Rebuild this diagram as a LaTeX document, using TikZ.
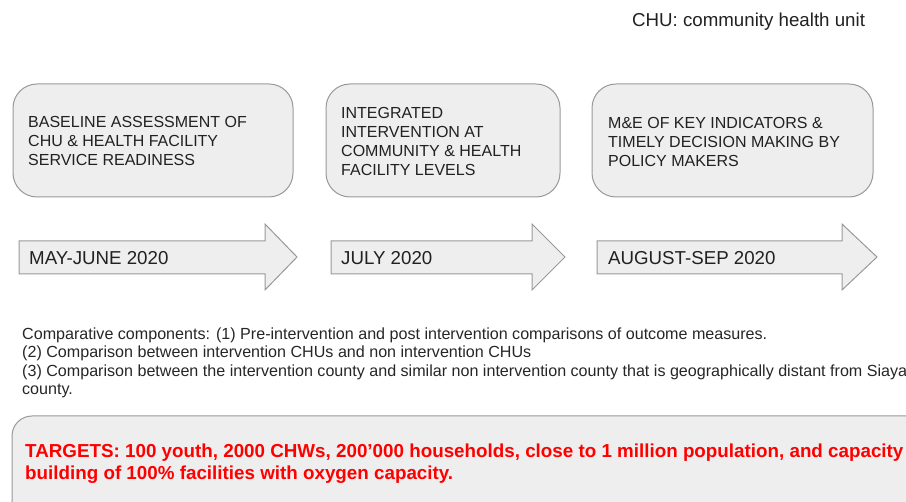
\documentclass[tikz,border=0pt]{standalone}
\usepackage{fontspec}
\setmainfont{Liberation Sans}
\begin{document}
\begin{tikzpicture}[x=1pt,y=-1pt,
  panel/.style={draw=black!40,fill=black!6.5,line width=1pt,rounded corners=24pt},
  timearrow/.style={draw=black!40,fill=black!6.5,line width=1pt},
  boxtext/.style={anchor=west,align=left,inner sep=0pt,text=black!87,
    font=\fontsize{16}{19}\selectfont},
  datetext/.style={anchor=west,inner sep=0pt,text=black!87,
    font=\fontsize{18.7}{21}\selectfont},
  notetext/.style={anchor=west,align=left,inner sep=0pt,text=black!85,
    font=\fontsize{16.1}{18.4}\selectfont},
  targettext/.style={anchor=west,align=left,inner sep=0pt,text=red,
    font=\fontsize{18.8}{22.5}\selectfont\bfseries}]
\useasboundingbox (0,0) rectangle (906,502);
\clip (0,0) rectangle (906,502);

% legend
\node[anchor=west,inner sep=0pt,text=black!87,font=\fontsize{18.7}{21}\selectfont]
  (legend) at (632,22) {CHU: community health unit};

% phase panels
\draw[panel] (13,84) rectangle (293,197);
\draw[panel] (326,84) rectangle (560,197);
\draw[panel] (592,84) rectangle (873,197);
\node[boxtext] (phase1) at (28,141)
  {BASELINE ASSESSMENT OF\\CHU \& HEALTH FACILITY\\SERVICE READINESS};
\node[boxtext] (phase2) at (341,141)
  {INTEGRATED\\INTERVENTION AT\\COMMUNITY \& HEALTH\\FACILITY LEVELS};
\node[boxtext] (phase3) at (608,142)
  {M\&E OF KEY INDICATORS \&\\TIMELY DECISION MAKING BY\\POLICY MAKERS};

% timeline arrows
\draw[timearrow] (19,241) -- (265,241) -- (265,224) -- (297,257)
  -- (265,290) -- (265,274) -- (19,274) -- cycle;
\draw[timearrow] (331,241) -- (532,241) -- (532,224) -- (565,257)
  -- (532,290) -- (532,274) -- (331,274) -- cycle;
\draw[timearrow] (597,241) -- (842,241) -- (842,224) -- (877,257)
  -- (842,290) -- (842,274) -- (597,274) -- cycle;
\node[datetext] (date1) at (29,258) {MAY-JUNE 2020};
\node[datetext] (date2) at (341,258) {JULY 2020};
\node[datetext] (date3) at (608,258) {AUGUST-SEP 2020};

% comparative components
\node[notetext] (notes) at (22,363)
  {Comparative components: (1) Pre-intervention and post intervention comparisons of outcome measures.\\
   (2) Comparison between intervention CHUs and non intervention CHUs\\
   (3) Comparison between the intervention county and similar non intervention county that is geographically distant from Siaya\\
   county.};

% targets
\draw[panel,rounded corners=20pt] (12,416) rectangle (940,540);
\node[targettext] (targets) at (25,463.5)
  {TARGETS: 100 youth, 2000 CHWs, 200’000 households, close to 1 million population, and capacity\\
   building of 100\% facilities with oxygen capacity.};
\end{tikzpicture}
\end{document}
